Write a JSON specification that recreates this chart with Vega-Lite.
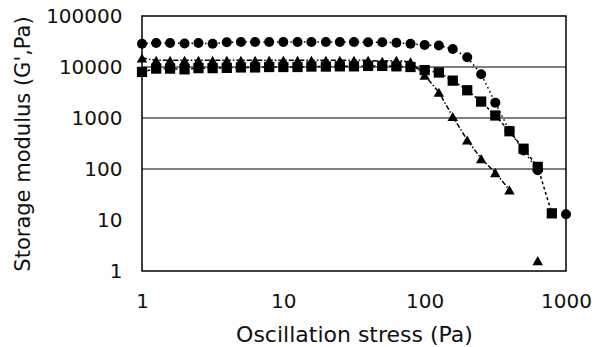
{
  "$schema": "https://vega.github.io/schema/vega-lite/v6.json",
  "width": 424,
  "height": 255,
  "autosize": "none",
  "padding": {"left": 142, "top": 16, "right": 29, "bottom": 76},
  "background": "white",
  "config": {
    "view": {"stroke": "black", "strokeWidth": 1.5},
    "font": "DejaVu Sans",
    "axis": {
      "labelFont": "DejaVu Sans",
      "titleFont": "DejaVu Sans",
      "labelFontSize": 20,
      "titleFontSize": 21,
      "titleFontWeight": "normal",
      "labelColor": "#111",
      "titleColor": "#111",
      "labelFlush": false,
      "labelOverlap": false,
      "domain": false,
      "ticks": false,
      "grid": false
    }
  },
  "datasets": {
    "pts": [
      {"series": "circle", "stress": 1, "G": 28500},
      {"series": "circle", "stress": 1.26, "G": 29500},
      {"series": "circle", "stress": 1.58, "G": 29500},
      {"series": "circle", "stress": 2, "G": 29000},
      {"series": "circle", "stress": 2.51, "G": 29500},
      {"series": "circle", "stress": 3.16, "G": 28500},
      {"series": "circle", "stress": 3.98, "G": 30500},
      {"series": "circle", "stress": 5.01, "G": 31000},
      {"series": "circle", "stress": 6.31, "G": 31000},
      {"series": "circle", "stress": 7.94, "G": 31000},
      {"series": "circle", "stress": 10, "G": 31000},
      {"series": "circle", "stress": 12.6, "G": 31000},
      {"series": "circle", "stress": 15.8, "G": 31000},
      {"series": "circle", "stress": 20, "G": 31000},
      {"series": "circle", "stress": 25.1, "G": 31000},
      {"series": "circle", "stress": 31.6, "G": 31000},
      {"series": "circle", "stress": 39.8, "G": 30500},
      {"series": "circle", "stress": 50.1, "G": 30500},
      {"series": "circle", "stress": 63.1, "G": 30000},
      {"series": "circle", "stress": 79.4, "G": 28500},
      {"series": "circle", "stress": 100, "G": 27000},
      {"series": "circle", "stress": 126, "G": 26500},
      {"series": "circle", "stress": 158, "G": 22500},
      {"series": "circle", "stress": 200, "G": 15500},
      {"series": "circle", "stress": 251, "G": 7200},
      {"series": "circle", "stress": 316, "G": 2000},
      {"series": "circle", "stress": 398, "G": 560},
      {"series": "circle", "stress": 501, "G": 230},
      {"series": "circle", "stress": 631, "G": 95},
      {"series": "circle", "stress": 1000, "G": 13},
      {"series": "square", "stress": 1, "G": 8000},
      {"series": "square", "stress": 1.26, "G": 9300},
      {"series": "square", "stress": 1.58, "G": 9300},
      {"series": "square", "stress": 2, "G": 9000},
      {"series": "square", "stress": 2.51, "G": 9500},
      {"series": "square", "stress": 3.16, "G": 9500},
      {"series": "square", "stress": 3.98, "G": 9600},
      {"series": "square", "stress": 5.01, "G": 9800},
      {"series": "square", "stress": 6.31, "G": 9800},
      {"series": "square", "stress": 7.94, "G": 10000},
      {"series": "square", "stress": 10, "G": 10000},
      {"series": "square", "stress": 12.6, "G": 10000},
      {"series": "square", "stress": 15.8, "G": 10200},
      {"series": "square", "stress": 20, "G": 10200},
      {"series": "square", "stress": 25.1, "G": 10300},
      {"series": "square", "stress": 31.6, "G": 10300},
      {"series": "square", "stress": 39.8, "G": 10500},
      {"series": "square", "stress": 50.1, "G": 10500},
      {"series": "square", "stress": 63.1, "G": 10300},
      {"series": "square", "stress": 79.4, "G": 10000},
      {"series": "square", "stress": 100, "G": 8700},
      {"series": "square", "stress": 126, "G": 7800},
      {"series": "square", "stress": 158, "G": 5400},
      {"series": "square", "stress": 200, "G": 3500},
      {"series": "square", "stress": 251, "G": 2100},
      {"series": "square", "stress": 316, "G": 1120},
      {"series": "square", "stress": 398, "G": 550},
      {"series": "square", "stress": 501, "G": 250},
      {"series": "square", "stress": 631, "G": 110},
      {"series": "square", "stress": 794, "G": 13.5},
      {"series": "triangle", "stress": 1, "G": 15000},
      {"series": "triangle", "stress": 1.26, "G": 13500},
      {"series": "triangle", "stress": 1.58, "G": 13500},
      {"series": "triangle", "stress": 2, "G": 13500},
      {"series": "triangle", "stress": 2.51, "G": 13500},
      {"series": "triangle", "stress": 3.16, "G": 13500},
      {"series": "triangle", "stress": 3.98, "G": 13500},
      {"series": "triangle", "stress": 5.01, "G": 13500},
      {"series": "triangle", "stress": 6.31, "G": 13500},
      {"series": "triangle", "stress": 7.94, "G": 13500},
      {"series": "triangle", "stress": 10, "G": 13500},
      {"series": "triangle", "stress": 12.6, "G": 13500},
      {"series": "triangle", "stress": 15.8, "G": 13500},
      {"series": "triangle", "stress": 20, "G": 13500},
      {"series": "triangle", "stress": 25.1, "G": 13500},
      {"series": "triangle", "stress": 31.6, "G": 13500},
      {"series": "triangle", "stress": 39.8, "G": 13500},
      {"series": "triangle", "stress": 50.1, "G": 13000},
      {"series": "triangle", "stress": 63.1, "G": 13500},
      {"series": "triangle", "stress": 79.4, "G": 12600},
      {"series": "triangle", "stress": 100, "G": 6900},
      {"series": "triangle", "stress": 126, "G": 3200},
      {"series": "triangle", "stress": 158, "G": 1070},
      {"series": "triangle", "stress": 200, "G": 370},
      {"series": "triangle", "stress": 251, "G": 160},
      {"series": "triangle", "stress": 316, "G": 85},
      {"series": "triangle", "stress": 398, "G": 39},
      {"series": "triangle", "stress": 631, "G": 1.6}
    ],
    "grid": [{"G": 100}, {"G": 1000}, {"G": 10000}]
  },
  "layer": [
    {
      "data": {"name": "grid"},
      "mark": {"type": "rule", "color": "black", "strokeWidth": 1.2},
      "encoding": {
        "y": {"field": "G", "type": "quantitative", "scale": {"type": "log", "domain": [1, 100000], "nice": false, "zero": false}}
      }
    },
    {
      "data": {"name": "pts"},
      "transform": [
        {"filter": "datum.series == 'square' || (datum.series == 'circle' && datum.stress < 700) || (datum.series == 'triangle' && datum.stress < 500)"}
      ],
      "mark": {"type": "line", "color": "black", "strokeWidth": 1.5},
      "encoding": {
        "x": {"field": "stress", "type": "quantitative", "scale": {"type": "log", "domain": [1, 1000], "nice": false, "zero": false, "padding": 0}},
        "y": {"field": "G", "type": "quantitative", "scale": {"type": "log", "domain": [1, 100000], "nice": false, "zero": false}},
        "detail": {"field": "series"},
        "strokeDash": {
          "field": "series",
          "scale": {"domain": ["circle", "square", "triangle"], "range": [[1.5, 3], [3, 2.5], [5, 2, 1.5, 2]]},
          "legend": null
        }
      }
    },
    {
      "data": {"name": "pts"},
      "mark": {"type": "point", "filled": true, "opacity": 1, "color": "black"},
      "encoding": {
        "x": {
          "field": "stress", "type": "quantitative",
          "scale": {"type": "log", "domain": [1, 1000], "nice": false, "zero": false, "padding": 0},
          "axis": {"values": [1, 10, 100, 1000], "format": "d", "labelPadding": 20, "title": "Oscillation stress (Pa)", "titlePadding": 13, "titleFontSize": 22}
        },
        "y": {
          "field": "G", "type": "quantitative",
          "scale": {"type": "log", "domain": [1, 100000], "nice": false, "zero": false},
          "axis": {"values": [1, 10, 100, 1000, 10000, 100000], "format": "d", "labelPadding": 20, "title": "Storage modulus (G',Pa)", "titlePadding": 12}
        },
        "shape": {
          "field": "series",
          "scale": {"domain": ["circle", "square", "triangle"], "range": ["circle", "square", "triangle-up"]},
          "legend": null
        },
        "size": {
          "field": "series",
          "scale": {"domain": ["circle", "square", "triangle"], "range": [100, 110, 110]},
          "legend": null
        }
      }
    }
  ]
}
